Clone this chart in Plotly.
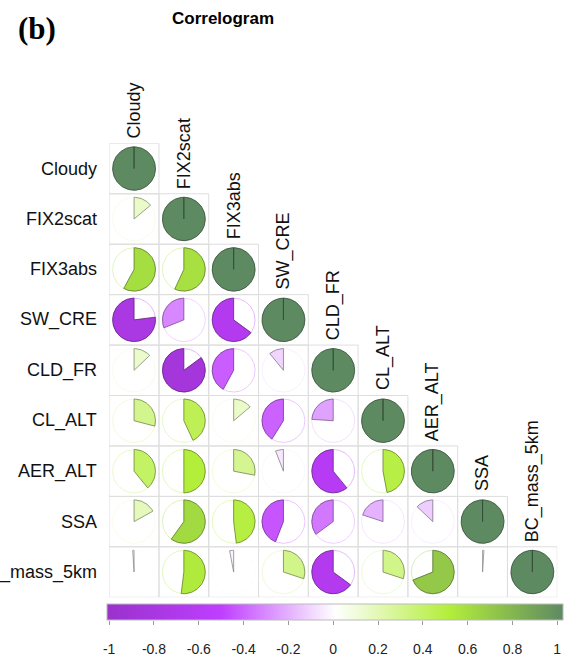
import numpy as np
import plotly.graph_objects as go

# Variables of the correlation matrix (same order for rows and columns)
variables = ["Cloudy", "FIX2scat", "FIX3abs", "SW_CRE", "CLD_FR",
             "CL_ALT", "AER_ALT", "SSA", "BC_mass_5km"]

# Lower-triangle correlation coefficients, one list per row (diagonal = 1)
r_cloudy = []
r_fix2scat = [0.14]
r_fix3abs = [0.58, 0.57]
r_sw_cre = [-0.77, -0.31, -0.65]
r_cld_fr = [0.13, -0.85, -0.42, -0.11]
r_cl_alt = [0.29, 0.43, 0.14, -0.41, -0.24]
r_aer_alt = [0.39, 0.50, 0.28, -0.06, -0.61, 0.47]
r_ssa = [0.17, 0.60, 0.48, -0.44, -0.35, -0.20, -0.13]
r_bc_mass = [-0.01, 0.52, -0.03, 0.30, -0.65, 0.30, 0.69, 0.01]

rows = [r_cloudy, r_fix2scat, r_fix3abs, r_sw_cre, r_cld_fr,
        r_cl_alt, r_aer_alt, r_ssa, r_bc_mass]

# Colour bar ticks
cbar_ticks = [-1, -0.8, -0.6, -0.4, -0.2, 0, 0.2, 0.4, 0.6, 0.8, 1]
cbar_text = ["-1", "-0.8", "-0.6", "-0.4", "-0.2", "0", "0.2", "0.4", "0.6", "0.8", "1"]

# Diverging palette: purple -> white -> green
stops = [(-1.0, "#9932CC"), (-0.5, "#BF3EFF"), (0.0, "#FFFFFF"),
         (0.5, "#B3EE3A"), (1.0, "#5E8A62")]


def hex2rgb(h):
    h = h.lstrip("#")
    return np.array([int(h[i:i + 2], 16) for i in (0, 2, 4)], dtype=float)


def color_of(v):
    for (v0, c0), (v1, c1) in zip(stops[:-1], stops[1:]):
        if v0 <= v <= v1:
            t = (v - v0) / (v1 - v0)
            return hex2rgb(c0) * (1 - t) + hex2rgb(c1) * t
    return hex2rgb(stops[-1][1])


def rgb(c):
    c = np.clip(c, 0, 255)
    return "rgb(%d,%d,%d)" % tuple(int(round(x)) for x in c)


colorscale = [[(v + 1) / 2, c] for v, c in stops]

W, H = 576, 657
N = len(variables)
# plot area in pixels
X0, X1 = 105, 561
Y0, Y1 = 144, 600
R = 0.43  # pie radius in cell units

fig = go.Figure()
shapes = []

for i in range(N):
    vals = rows[i] + [1.0]
    for j, v in enumerate(vals):
        cx, cy = j + 0.5, i + 0.5
        shapes.append(dict(type="rect", xref="x", yref="y", x0=j, x1=j + 1,
                           y0=i, y1=i + 1, layer="below",
                           line=dict(color="#DEDEDE", width=1)))
        fill = color_of(v)
        edge = fill * 0.55
        ring = fill * 0.35 + 255 * 0.65
        # outline circle
        a = np.linspace(0, 2 * np.pi, 121)
        fig.add_trace(go.Scatter(
            x=cx + R * np.sin(a), y=cy - R * np.cos(a), mode="lines",
            line=dict(color=rgb(ring), width=1), hoverinfo="skip",
            showlegend=False))
        # wedge: clockwise from 12 o'clock for positive, counter-clockwise for negative
        ang = 2 * np.pi * v
        n = max(2, int(abs(v) * 180) + 2)
        a = np.linspace(0, ang, n)
        px = np.concatenate([[cx], cx + R * np.sin(a), [cx]])
        py = np.concatenate([[cy], cy - R * np.cos(a), [cy]])
        fig.add_trace(go.Scatter(
            x=px, y=py, mode="lines", fill="toself", fillcolor=rgb(fill),
            line=dict(color=rgb(edge), width=0.8), hoverinfo="skip",
            showlegend=False))

annotations = []
font_lbl = dict(family="Liberation Sans, Arial", size=18, color="#111111")
for k, name in enumerate(variables):
    # row labels on the left
    annotations.append(dict(x=0, y=k + 0.5, xref="x", yref="y", text=name,
                            showarrow=False, xanchor="right", yanchor="middle",
                            xshift=-10, font=font_lbl))
    # column labels above the diagonal cell
    annotations.append(dict(x=k + 0.5, y=k, xref="x", yref="y", text=name,
                            showarrow=False, textangle=-90, xanchor="center",
                            yanchor="bottom", yshift=3, font=font_lbl))

annotations.append(dict(x=221 / W, y=1 - 19 / H, xref="paper", yref="paper",
                        text="<b>Correlogram</b>", showarrow=False,
                        xanchor="center", yanchor="middle",
                        font=dict(family="Liberation Sans, Arial", size=17,
                                  color="#000000")))
annotations.append(dict(x=10 / W, y=1 - 29 / H, xref="paper", yref="paper",
                        text="<b>(b)</b>", showarrow=False,
                        xanchor="left", yanchor="middle",
                        font=dict(family="Liberation Serif, Times New Roman",
                                  size=31, color="#000000")))

# colour bar (gradient) with a helper axis carrying its ticks
fig.add_trace(go.Scatter(
    x=[None, None], y=[None, None], mode="markers", xaxis="x2", yaxis="y2",
    hoverinfo="skip", showlegend=False,
    marker=dict(color=[-1, 1], cmin=-1, cmax=1, colorscale=colorscale,
                showscale=True,
                colorbar=dict(orientation="h", x=(X0 - 2) / W, xanchor="left",
                              len=X1 - X0, lenmode="pixels",
                              thickness=16, thicknessmode="pixels",
                              y=1 - 607 / H, yanchor="top", xpad=0, ypad=0,
                              outlinewidth=1, outlinecolor="#BBBBBB",
                              showticklabels=False, ticks=""))))

fig.update_layout(
    width=W, height=H, margin=dict(l=0, r=0, t=0, b=0),
    paper_bgcolor="white", plot_bgcolor="white",
    xaxis=dict(domain=[X0 / W, X1 / W], range=[0, N], visible=False,
               fixedrange=True),
    yaxis=dict(domain=[1 - Y1 / H, 1 - Y0 / H], range=[N, 0], visible=False,
               fixedrange=True),
    xaxis2=dict(domain=[X0 / W, X1 / W], range=[-1, 1], anchor="y2",
                tickvals=cbar_ticks, ticktext=cbar_text, ticks="outside",
                ticklen=4, tickcolor="#9A9A9A", showgrid=False, zeroline=False,
                showline=False, ticklabelstandoff=12,
                tickfont=dict(family="Liberation Sans, Arial", size=14,
                              color="#222222")),
    yaxis2=dict(domain=[1 - 623 / H, 1 - 607 / H], range=[0, 1],
                visible=False),
    shapes=shapes, annotations=annotations,
)

fig.write_html("out.html")
